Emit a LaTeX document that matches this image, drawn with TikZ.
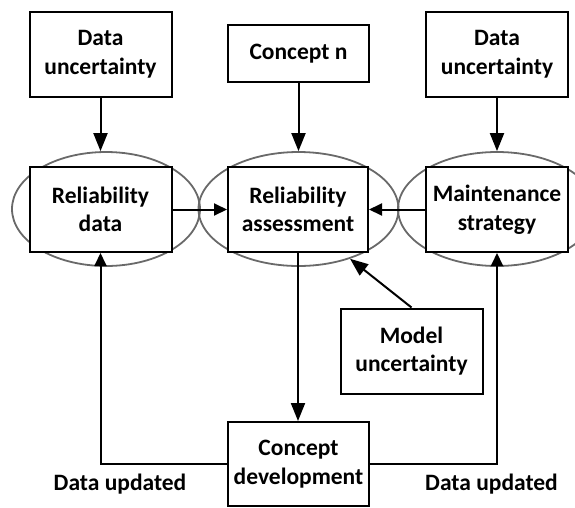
\documentclass[tikz,border=0pt]{standalone}
\usepackage{fontspec}
\setmainfont{Carlito}
\usetikzlibrary{arrows.meta,shapes.geometric}
\definecolor{ellgray}{RGB}{105,105,105}
\begin{document}
\begin{tikzpicture}[x=1pt,y=-1pt,
  txt/.style={font=\fontsize{23.5}{28.5}\selectfont\bfseries,align=center,inner sep=0pt},
  box/.style={txt,draw=black,line width=2pt,fill=white,minimum width=142pt,minimum height=85pt},
  ell/.style={draw=ellgray,line width=1.8pt,ellipse,inner sep=0pt,minimum width=196pt,minimum height=114pt},
  arr/.style={-{Triangle[length=13pt,width=12pt]},line width=2pt},
  longarr/.style={-{Triangle[length=18pt,width=14pt]},line width=2pt}]
\useasboundingbox (0,0) rectangle (575,507);
\clip (0,0) rectangle (575,507);
% ellipses
\node[ell,minimum width=188pt] (e1) at (106,209) {};
\node[ell,minimum width=200pt] (e2) at (298.5,209) {};
\node[ell,minimum width=198pt] (e3) at (497,209) {};
% boxes
\node[box] (du1) at (100.5,54) {Data\\uncertainty};
\node[box,minimum width=141pt,minimum height=57pt] (cn) at (298.5,53.5) {Concept n};
\node[box] (du2) at (497,54) {Data\\uncertainty};
\node[box] (rd) at (100.5,209.5) {Reliability\\data};
\node[box,minimum width=140pt] (ra) at (298,209.5) {Reliability\\assessment};
\node[box] (ms) at (497,209.5) {Maintenance\\strategy};
\node[box] (mu) at (411.5,351) {Model\\uncertainty};
\node[box,minimum width=141pt,minimum height=84pt] (cd) at (298.5,464) {Concept\\development};
% labels
\node[txt] (l1) at (120,484) {Data updated};
\node[txt] (l2) at (491.5,484) {Data updated};
% connectors
\draw[longarr] (du1.south) -- (du1.south |- e1.north);
\draw[longarr] (cn.south) -- (cn.south |- e2.north);
\draw[longarr] (du2.south) -- (du2.south |- e3.north);
\draw[arr] (rd.east) -- (ra.west);
\draw[arr] (ms.west) -- (ra.east);
\draw[longarr] (mu.north) -- (e2.-44);
\draw[longarr] (ra.south) -- (ra.south |- cd.north);
\draw[arr] (cd.west) -| (rd.south);
\draw[arr] (cd.east) -| (ms.south);
\end{tikzpicture}
\end{document}
